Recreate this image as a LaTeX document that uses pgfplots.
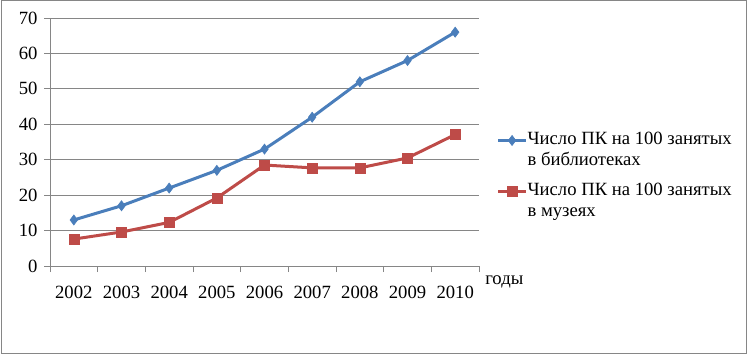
\documentclass[border=0pt]{standalone}
\usepackage{fontspec}
\setmainfont{Liberation Serif}
\usepackage{pgfplots}
\pgfplotsset{compat=1.18}
\definecolor{bl}{HTML}{4A7EBB}
\definecolor{rd}{HTML}{BE4B48}
\definecolor{gr}{HTML}{868686}
\begin{document}
\fontsize{14}{15.75}\selectfont
\begin{tikzpicture}
\useasboundingbox (0pt,0pt) rectangle (561pt,265.5pt);
\draw[gr, line width=0.75pt] (0.75pt,0.75pt) rectangle (559.9pt,264.75pt);
\begin{axis}[
  at={(37.5pt,66pt)}, anchor=south west,
  scale only axis, width=321.75pt, height=186pt,
  xmin=0.5, xmax=9.5, ymin=0, ymax=70,
  xtick={1,...,9},
  xticklabels={2002,2003,2004,2005,2006,2007,2008,2009,2010},
  minor xtick={0.5,1.5,...,9.5},
  ytick={0,10,...,70},
  axis lines=left,
  axis line style={gr, line width=0.75pt, -},
  tick align=outside,
  major tick length=4.5pt, minor tick length=4.5pt,
  tick style={gr, line width=0.75pt},
  major x tick style={draw=none},
  ymajorgrids, grid style={gr, line width=0.75pt},
  /pgf/number format/assume math mode=true,
  /pgf/number format/set thousands separator={},
  ticklabel style={font=\fontsize{14}{15.75}\selectfont},
  xticklabel style={yshift=-5.5pt},
  xlabel={годы},
  xlabel style={at={(rel axis cs:1,0)}, anchor=west, xshift=4.5pt, yshift=-12pt, inner sep=0pt},
  legend style={draw=none, fill=none, at={(1.031,0.56)}, anchor=north west,
    font=\fontsize{14}{15.75}\selectfont, row sep=25pt,
    nodes={inner sep=0pt},
    /tikz/every even column/.append style={column sep=0pt}},
  legend cell align=left,
  legend image code/.code={\draw[#1, mark repeat=2, mark phase=2] plot coordinates {(0pt,-1.25pt)(10.5pt,-1.25pt)(21pt,-1.25pt)};},
]
\addplot[bl, line width=2.25pt, mark=diamond*, mark size=3.75pt, mark options={solid, line width=0.5pt}]
  coordinates {(1,13)(2,17)(3,22)(4,27)(5,33)(6,42)(7,52)(8,58)(9,66)};
\addlegendentry{\begin{tabular}[t]{@{}l@{}}Число ПК на 100 занятых\\в библиотеках\end{tabular}}
\addplot[rd, line width=2.25pt, mark=square*, mark size=3.75pt, mark options={solid, line width=0.5pt}]
  coordinates {(1,7.6)(2,9.6)(3,12.3)(4,19.2)(5,28.5)(6,27.7)(7,27.7)(8,30.5)(9,37.1)};
\addlegendentry{\begin{tabular}[t]{@{}l@{}}Число ПК на 100 занятых\\в музеях\end{tabular}}
\end{axis}
\end{tikzpicture}
\end{document}
